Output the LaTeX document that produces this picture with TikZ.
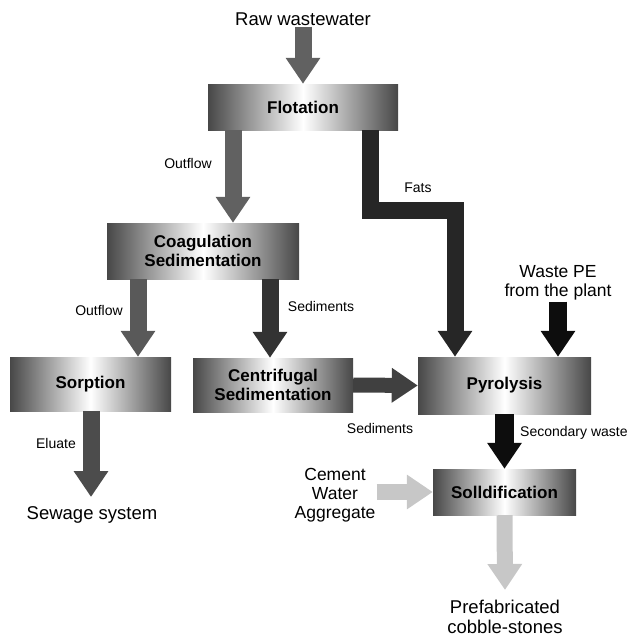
\documentclass[tikz,border=0pt]{standalone}
\usepackage{fontspec}
\setmainfont{Liberation Sans}
\usetikzlibrary{arrows.meta}
\tikzset{
  procbox/.style={inner sep=0pt, left color=black!72, right color=black!72, middle color=white,
    font=\bfseries\fontsize{17}{19}\selectfont, align=center},
  note/.style={font=\fontsize{18.5}{20}\selectfont, align=center, inner sep=1pt},
  tag/.style={font=\fontsize{14}{16}\selectfont, inner sep=1pt},
  flow/.style={line width=17pt, -{Triangle[width=33pt,length=26pt]}},
}

\begin{document}
\begin{tikzpicture}[x=1pt,y=-1pt]
\useasboundingbox (0,0) rectangle (630,637);
% process boxes:
\node[procbox, minimum width=190pt, minimum height=46pt] (flot) at (303,107) {Flotation};
\node[procbox, minimum width=192pt, minimum height=56pt] (coag) at (203,251) {Coagulation\\Sedimentation};
\node[procbox, minimum width=161pt, minimum height=54pt] (sorp) at (90.5,384) {Sorption};
\node[procbox, minimum width=160pt, minimum height=54pt] (centr) at (273,385) {Centrifugal\\Sedimentation};
\node[procbox, minimum width=173pt, minimum height=57pt] (pyro) at (504.5,385.5) {Pyrolysis};
\node[procbox, minimum width=143pt, minimum height=46pt] (solid) at (504.5,492) {Solldification};
% inputs and outputs:
\node[note] (raw) at (303,19) {Raw wastewater};
\node[note] (sewage) at (92,515) {Sewage system};
\node[note, font=\fontsize{17.5}{19}\selectfont] (wastepe) at (558,283) {Waste PE\\from the plant};
\node[note, font=\fontsize{17.5}{19}\selectfont] (cement) at (335,495) {Cement\\Water\\Aggregate};
\node[note] (prefab) at (505,617) {Prefabricated\\cobble-stones};
% stream labels:
\node[tag] (outflowa) at (188,163) {Outflow};
\node[tag] (fatstag) at (418,188) {Fats};
\node[tag] (outflowb) at (99,310) {Outflow};
\node[tag] (sedtaga) at (321,306) {Sediments};
\node[tag] (sedtagb) at (380,428) {Sediments};
\node[tag] (elutag) at (56,443) {Eluate};
\node[tag, anchor=west] (sectag) at (519,433) {Secondary waste};
% arrow guides:
\coordinate (outa) at (233,0);
\coordinate (fatsa) at (370,210);
\coordinate (fatsb) at (455,210);
\coordinate (outb) at (138,0);
\coordinate (seda) at (270,0);
\coordinate (elub) at (91,497);
\coordinate (prefabtop) at (505,590);
% arrows:
\draw[flow, draw=black!62] (raw.south) -- (flot.north);
\draw[flow, draw=black!62] (flot.south -| outa) -- (coag.north -| outa);
\draw[flow, draw=black!85] (flot.south -| fatsa) -- (fatsa) -- (fatsb) -- (pyro.north -| fatsb);
\draw[flow, draw=black!65] (coag.south -| outb) -- (sorp.north -| outb);
\draw[flow, draw=black!80] (coag.south -| seda) -- (centr.north -| seda);
\draw[flow, line width=15pt, draw=black!75] (centr.east) -- (pyro.west);
\draw[flow, draw=black!70] (sorp.south -| elub) -- (elub);
\draw[flow, line width=18pt, draw=black!95] (wastepe.south) -- (pyro.north -| wastepe.south);
\draw[flow, line width=19pt, draw=black!95] (pyro.south) -- (solid.north);
\draw[flow, line width=16pt, draw=black!22] (cement.east |- solid.west) -- (solid.west);
\draw[flow, line width=16pt, draw=black!22] (solid.south) -- (prefabtop);
\end{tikzpicture}
\end{document}
